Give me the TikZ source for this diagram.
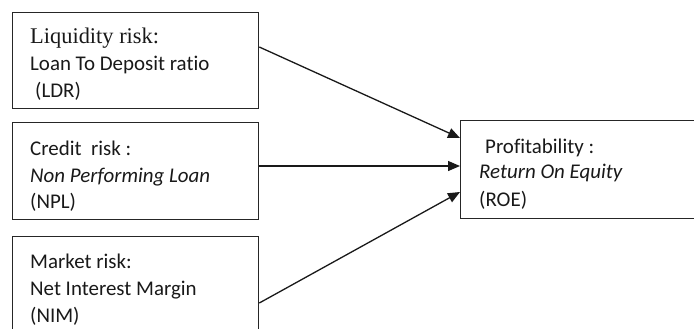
\documentclass[tikz,border=0pt]{standalone}
\usepackage{fontspec}
\setmainfont[Ligatures=NoCommon]{Carlito}
\newfontfamily\timesf{Liberation Serif}
\usetikzlibrary{arrows.meta,calc}
\begin{document}
\begin{tikzpicture}[x=1bp,y=-1bp,
  box/.style={draw=black!85, line width=1.3bp, rectangle, inner sep=0pt, anchor=north west},
  txt/.style={anchor=base west, inner sep=0pt, font=\fontsize{21}{24}\selectfont, text=black!90},
  arr/.style={draw=black!90, line width=1.3bp, -{Triangle[length=12bp,width=10bp]}}]
\useasboundingbox (0,0) rectangle (694,328);
\node[box, minimum width=246bp, minimum height=96bp] (liq) at (12,12) {};
\node[box, minimum width=246bp, minimum height=97bp] (cred) at (12,122) {};
\node[box, minimum width=246bp, minimum height=100bp] (mkt) at (12,236) {};
\node[box, minimum width=240bp, minimum height=98bp] (roe) at (460,120) {};
% texts
\node[txt, font=\timesf\fontsize{22.5}{24}\selectfont] (liq1) at (30,43) {Liquidity risk:};
\node[txt] (liq2) at (30,70) {Loan To Deposit ratio};
\node[txt] (liq3) at (35,97) {(LDR)};
\node[txt] (cred1) at (30,155) {Credit\ \ risk :};
\node[txt] (cred2) at (30,182) {\itshape Non Performing Loan};
\node[txt] (cred3) at (30,208) {(NPL)};
\node[txt] (mkt1) at (30,268) {Market risk:};
\node[txt] (mkt2) at (30,295) {Net Interest Margin};
\node[txt] (mkt3) at (30,322) {(NIM)};
\node[txt] (roe1) at (485,153) {Profitability :};
\node[txt] (roe2) at (479,178) {\itshape Return On Equity};
\node[txt] (roe3) at (479,206) {(ROE)};
% arrows
\draw[arr] ($(liq.north east)+(0,35)$) -- ($(roe.north west)+(0,18)$);
\draw[arr] ($(cred.north east)+(0,44)$) -- ($(roe.north west)+(0,46)$);
\draw[arr] ($(mkt.north east)+(0,67)$) -- ($(roe.north west)+(0,72)$);
\end{tikzpicture}
\end{document}
